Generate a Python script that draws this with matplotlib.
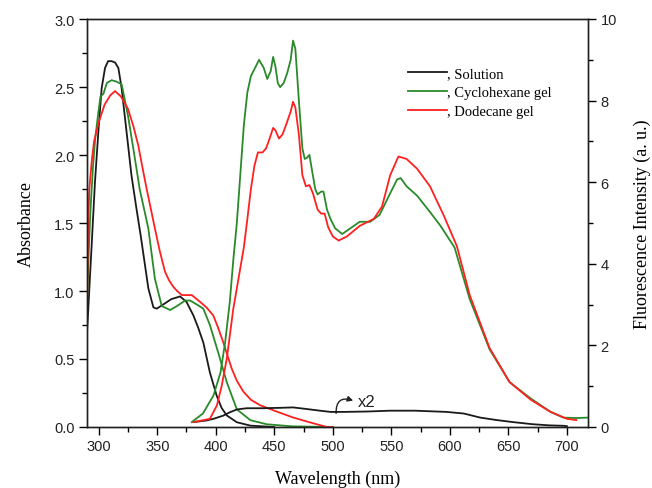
import matplotlib
matplotlib.use("Agg")
import matplotlib.pyplot as plt
from matplotlib.ticker import MultipleLocator, FormatStrFormatter

# ---------------- data ----------------
# Absorbance (left axis)
abs_sol_x = [290, 291, 292.5, 294, 296.8, 299.7, 302.5, 305.4, 308, 311, 314, 316.8, 319.6, 323.8,
             328, 332, 336, 342.4, 346.7, 349.6, 356.7, 362, 369.5, 375, 380.9, 385, 389.4, 395,
             400.8, 405, 409.4, 418, 429.6, 450]
abs_sol_y = [0.70, 0.85, 1.10, 1.34, 1.80, 2.17, 2.49, 2.64, 2.69, 2.69, 2.68, 2.64, 2.49, 2.17,
             1.85, 1.62, 1.40, 1.02, 0.88, 0.87, 0.91, 0.94, 0.96, 0.92, 0.82, 0.73, 0.62, 0.40,
             0.23, 0.14, 0.085, 0.035, 0.01, 0.0]

abs_cyc_x = [290, 291.5, 293, 295, 297, 299.5, 301.5, 304, 307, 311, 315, 319.6, 325, 331, 335,
             342.4, 348, 353.8, 361, 367, 373.8, 378, 384, 389.4, 395, 402, 409.4, 418, 429.6,
             443.6, 465, 500]
abs_cyc_y = [0.90, 1.30, 1.60, 1.90, 2.12, 2.30, 2.43, 2.45, 2.53, 2.55, 2.54, 2.52, 2.29, 1.97, 1.75,
             1.46, 1.09, 0.89, 0.86, 0.89, 0.93, 0.93, 0.90, 0.87, 0.75, 0.55, 0.33, 0.13, 0.05,
             0.02, 0.005, 0.0]

abs_dod_x = [290, 291, 292, 294, 296, 300, 305, 310, 314, 319, 325, 330, 333.8, 338, 341, 348, 352,
             356.7, 360, 363.8, 367, 371, 375, 379.5, 386.6, 392, 397.9, 402, 406.5, 413.6, 418,
             423.6, 430, 437.9, 450, 466, 480, 495, 500]
abs_dod_y = [0.85, 1.50, 1.75, 1.95, 2.10, 2.24, 2.37, 2.44, 2.47, 2.43, 2.34, 2.20, 2.07, 1.88, 1.75,
             1.46, 1.30, 1.14, 1.08, 1.03, 1.00, 0.97, 0.97, 0.97, 0.92, 0.88, 0.82, 0.73, 0.62,
             0.43, 0.34, 0.26, 0.20, 0.16, 0.12, 0.07, 0.035, 0.0, 0.0]

# Fluorescence (right axis, a.u.)
fl_sol_x = [381, 392, 398, 406.5, 412, 418, 426.5, 440, 455, 466, 475, 489, 498, 510, 530, 549,
            570, 597, 612, 626, 640, 654, 670, 685, 697, 700]
fl_sol_y = [0.12, 0.16, 0.20, 0.28, 0.36, 0.43, 0.46, 0.46, 0.47, 0.48, 0.45, 0.40, 0.37, 0.37, 0.38,
            0.40, 0.40, 0.37, 0.33, 0.23, 0.17, 0.12, 0.07, 0.04, 0.03, 0.02]

fl_cyc_x = [379.5, 389, 398, 404, 408, 412, 415, 418, 421, 424, 427, 430, 433, 437, 441, 444, 447,
            449, 451, 453, 455, 458, 461, 464, 466, 468, 471, 474, 476, 478, 480, 482, 485, 487,
            490, 492, 495, 498, 502, 508, 515, 523, 532, 540, 548, 555, 558, 563, 572, 583, 592,
            604, 617, 634, 651, 669, 686, 697, 708, 718]
fl_cyc_y = [0.12, 0.33, 0.77, 1.33, 2.07, 3.07, 4.10, 5.00, 6.20, 7.40, 8.20, 8.60, 8.77, 9.00, 8.80,
            8.53, 8.73, 9.07, 8.83, 8.43, 8.33, 8.43, 8.67, 9.00, 9.47, 9.27, 8.00, 6.83, 6.57, 6.60,
            6.67, 6.33, 5.83, 5.70, 5.77, 5.77, 5.33, 5.10, 4.87, 4.73, 4.87, 5.03, 5.03, 5.20, 5.67,
            6.07, 6.10, 5.90, 5.67, 5.27, 4.93, 4.40, 3.13, 1.90, 1.10, 0.70, 0.37, 0.23, 0.22, 0.23]

fl_dod_x = [381, 395, 401, 405, 409.4, 415, 421, 424, 427, 430, 433, 436, 440, 443, 446, 449, 451,
            454, 457, 460, 464, 466, 468, 471, 474, 477, 480, 483, 487, 490, 493, 496, 500, 505,
            512, 523, 535, 542, 549, 556, 563, 572, 583, 595, 606, 617, 634, 651, 669, 686, 700, 708]
fl_dod_y = [0.12, 0.20, 0.53, 1.00, 1.67, 2.90, 3.90, 4.40, 5.10, 5.83, 6.40, 6.73, 6.73, 6.83, 7.07,
            7.33, 7.27, 7.07, 7.17, 7.40, 7.73, 7.97, 7.83, 7.17, 6.17, 5.90, 5.93, 5.73, 5.33, 5.23,
            5.23, 4.90, 4.67, 4.57, 4.67, 4.93, 5.10, 5.40, 6.17, 6.63, 6.57, 6.33, 5.90, 5.17, 4.43,
            3.23, 1.93, 1.10, 0.67, 0.37, 0.20, 0.17]

labels = [", Solution", ", Cyclohexane gel", ", Dodecane gel"]
colors = ["#1a1a1a", "#2a8a2a", "#ff2020"]
note_text = "x2"

# ---------------- plot ----------------
tick_font = "Liberation Sans"
label_font = "Liberation Serif"

fig = plt.figure(figsize=(6.52, 4.89), dpi=100)
ax = fig.add_axes([87 / 652, 1 - 428 / 489, (588 - 87) / 652, (428 - 20) / 489])
ax2 = ax.twinx()

lw = 1.3
ax.plot(abs_sol_x, abs_sol_y, color=colors[0], lw=lw)
ax.plot(abs_cyc_x, abs_cyc_y, color=colors[1], lw=lw)
ax.plot(abs_dod_x, abs_dod_y, color=colors[2], lw=lw)

h0, = ax2.plot(fl_sol_x, fl_sol_y, color=colors[0], lw=lw)
h1, = ax2.plot(fl_cyc_x, fl_cyc_y, color=colors[1], lw=lw)
h2, = ax2.plot(fl_dod_x, fl_dod_y, color=colors[2], lw=lw)

ax.set_xlim(290, 718)
ax.set_ylim(0, 3.0)
ax2.set_ylim(0, 10)

ax.xaxis.set_major_locator(MultipleLocator(50))
ax.xaxis.set_minor_locator(MultipleLocator(25))
ax.yaxis.set_major_locator(MultipleLocator(0.5))
ax.yaxis.set_minor_locator(MultipleLocator(0.25))
ax2.yaxis.set_major_locator(MultipleLocator(2))
ax2.yaxis.set_minor_locator(MultipleLocator(1))

for a in (ax, ax2):
    a.tick_params(which="major", direction="out", length=6, width=1.0, labelsize=10.5, pad=3)
    a.tick_params(which="minor", direction="out", length=3.5, width=1.0)
    for s in a.spines.values():
        s.set_linewidth(1.0)
        s.set_color("#222222")
ax.tick_params(top=False, which="both")

for lab in ax.get_xticklabels() + ax.get_yticklabels() + ax2.get_yticklabels():
    lab.set_fontfamily(tick_font)
    lab.set_color("#222222")

ax.yaxis.set_major_formatter(FormatStrFormatter("%.1f"))

ax.set_xlabel("Wavelength (nm)", fontfamily=label_font, fontsize=13, labelpad=12)
ax.set_ylabel("Absorbance", fontfamily=label_font, fontsize=13, labelpad=14)
ax2.set_ylabel("Fluorescence Intensity (a. u.)", fontfamily=label_font, fontsize=13, labelpad=12)

# x2 annotation (curved arrow from the solution curve)
ax.annotate("", xy=(517.4, 0.194), xytext=(502.8, 0.10),
            arrowprops=dict(arrowstyle="-|>", color="#222222", lw=1.0, shrinkA=0, shrinkB=0,
                            mutation_scale=8, connectionstyle="arc3,rad=-0.7"))
ax.text(521.0, 0.19, note_text, fontsize=12, fontfamily=tick_font, va="center", ha="left",
        color="#222222")

leg = fig.legend([h0, h1, h2], labels, loc="upper left",
                 bbox_to_anchor=(408 / 652, 1 - 68 / 489), frameon=False,
                 prop={"family": label_font, "size": 10.5}, handlelength=2.7,
                 handletextpad=0.0, labelspacing=0.4, borderpad=0, borderaxespad=0)

fig.savefig("out.png", dpi=100)
